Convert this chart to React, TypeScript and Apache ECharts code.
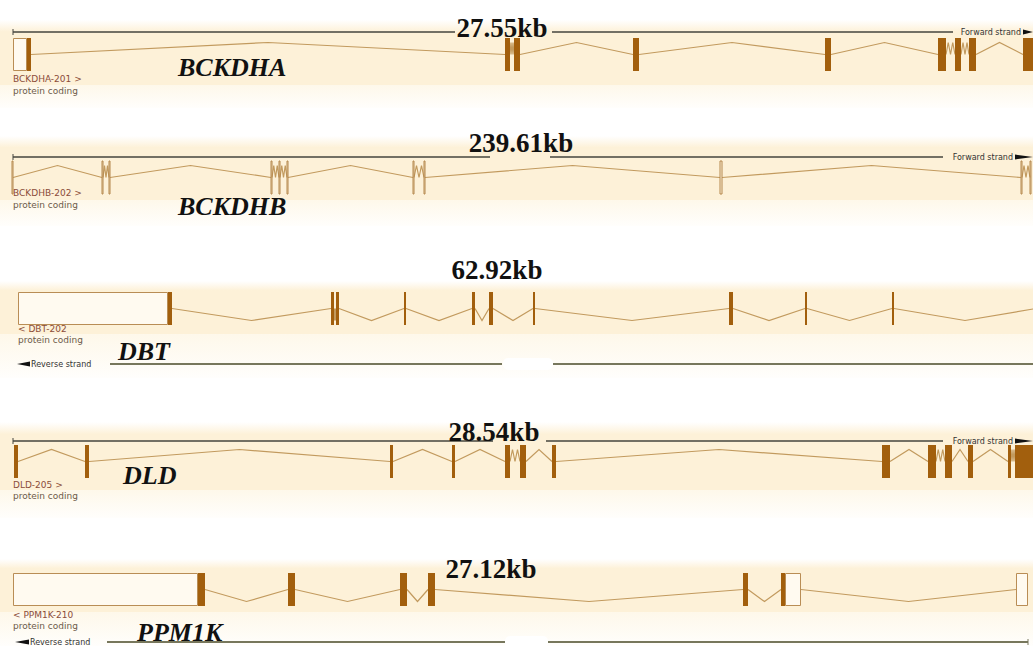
import { useEffect, useRef } from "react";
import * as echarts from "echarts";

// ---------------- data ----------------
const GENE_NAMES = ["BCKDHA", "BCKDHB", "DBT", "DLD", "PPM1K"];
const TRANSCRIPT_IDS = ["BCKDHA-201 >", "BCKDHB-202 >", "< DBT-202", "DLD-205 >", "< PPM1K-210"];
const BIOTYPES = ["protein coding", "protein coding", "protein coding", "protein coding", "protein coding"];
const SPAN_LABELS = ["27.55kb", "239.61kb", "62.92kb", "28.54kb", "27.12kb"];
const STRAND_LABELS = ["Forward strand", "Forward strand", "Reverse strand", "Forward strand", "Reverse strand"];
const STRAND_DIR = [1, 1, -1, 1, -1];

// exon [start, end, kind]  kind: "c" coding, "u" untranslated, "n" thin outline
type Exon = [number, number, string];
const BCKDHA_EXONS: Exon[] = [
  [13, 27, "u"], [27, 31, "c"], [505, 510, "c"], [514, 520, "c"], [633, 639, "c"],
  [825, 831, "c"], [938, 946, "c"], [955, 961, "c"], [969, 976, "c"], [1023, 1040, "c"],
];
const BCKDHB_EXONS: Exon[] = [
  [12, 13, "n"], [102, 103, "n"], [109, 110, "n"], [271, 272, "n"], [279, 280, "n"],
  [287, 288, "n"], [413, 414, "n"], [424, 425, "n"], [720, 722, "n"], [1021, 1022, "n"], [1030, 1031, "n"],
];
const DBT_EXONS: Exon[] = [
  [18, 168, "u"], [168, 172, "c"], [331, 334, "c"], [336, 339, "c"], [404, 406, "c"],
  [472, 475, "c"], [489, 493, "c"], [533, 535, "c"], [729, 733, "c"], [805, 807, "c"],
  [892, 894, "c"], [1036, 1040, "c"],
];
const DLD_EXONS: Exon[] = [
  [14, 18, "c"], [85, 89, "c"], [390, 393, "c"], [452, 455, "c"], [505, 510, "c"],
  [520, 526, "c"], [552, 556, "c"], [882, 890, "c"], [928, 936, "c"], [945, 952, "c"],
  [968, 973, "c"], [1008, 1011, "c"], [1015, 1040, "c"],
];
const PPM1K_EXONS: Exon[] = [
  [13, 198, "u"], [198, 205, "c"], [288, 295, "c"], [400, 407, "c"], [428, 435, "c"],
  [743, 748, "c"], [781, 785, "c"], [785, 801, "u"], [1016, 1028, "u"],
];
const TRACK_EXONS = [BCKDHA_EXONS, BCKDHB_EXONS, DBT_EXONS, DLD_EXONS, PPM1K_EXONS];

// ---------------- layout ----------------
const VIEW_W = 1033;
const VIEW_H = 646;
const TRACK_MID_Y = [54.5, 177.5, 308.5, 461.5, 589.5];
const EXON_HALF_H = 16.5;
const INTRON_RISE = 12;
const SHORT_INTRON = 12;
const BAND_TOP = [20, 136, 281, 422, 559];
const BAND_SPLIT = [85, 200, 334, 490, 612];
const BAND_BOTTOM = [108, 226, 378, 518, 646];
const SCALE_Y = [32, 157, 364, 441, 642];
const SCALE_SEGMENTS = [
  [[13, 455], [552, 953]],
  [[13, 490], [550, 943]],
  [[110, 502], [553, 1033]],
  [[13, 493], [546, 943]],
  [[107, 505], [548, 1028]],
];
const SCALE_TICKS = [[13], [13], [], [13], [1028]];
const STRAND_TEXT_X = [1021, 1013, 31, 1013, 30];
const STRAND_ARROW = [[1023, 1033], [1015, 1033], [17, 30], [1015, 1033], [15, 29]];
const GAP_PATCH = [null, null, [503, 553], null, [505, 548]];
const SPAN_LABEL_X = [502, 521, 497, 494, 491];
const SPAN_LABEL_Y = [28, 143, 270, 432, 569];
const GENE_LABEL_X = [178, 178, 118, 123, 137];
const GENE_LABEL_Y = [67, 206, 351, 475, 632];
const TX_LABEL_X = [13, 13, 18, 13, 13];
const TX_LABEL_Y = [79, 193, 329, 485, 615];
const BIOTYPE_Y = [91, 205, 340, 496, 626];

// ---------------- styles ----------------
const C_CODING = "#a25f0d";
const C_UTR_STROKE = "#b98d55";
const C_UTR_FILL = "#fffaf0";
const C_INTRON = "#c29a5e";
const C_THIN = "#b4864a";
const C_SCALE = "#44443e";
const C_SCALE_REV = "#77775c";
const C_BAND = "#fdf1d8";
const C_BAND_LOW = "#fef8ea";
const SERIF = '"Liberation Serif", "Times New Roman", serif';
const SANS = '"DejaVu Sans", Verdana, sans-serif';

const trackData = GENE_NAMES.map((_, i) => [i, i]);

function renderBands(_p: any, api: any) {
  const i = api.value(0);
  const [x0, y0] = api.coord([0, BAND_TOP[i]]);
  const [x1, ys] = api.coord([VIEW_W, BAND_SPLIT[i]]);
  const [, y1] = api.coord([VIEW_W, BAND_BOTTOM[i]]);
  return {
    type: "group",
    children: [
      {
        type: "rect",
        shape: { x: x0, y: y0, width: x1 - x0, height: ys - y0 },
        style: {
          fill: new echarts.graphic.LinearGradient(0, 0, 0, 1, [
            { offset: 0, color: "rgba(253,241,217,0)" },
            { offset: 0.18, color: C_BAND },
            { offset: 1, color: C_BAND },
          ]),
        },
      },
      {
        type: "rect",
        shape: { x: x0, y: ys, width: x1 - x0, height: y1 - ys },
        style: {
          fill: new echarts.graphic.LinearGradient(0, 0, 0, 1, [
            { offset: 0, color: C_BAND_LOW },
            { offset: 1, color: "rgba(254,248,234,0.15)" },
          ]),
        },
      },
    ],
  };
}

function renderGene(_p: any, api: any) {
  const i = api.value(0);
  const exons = TRACK_EXONS[i];
  const cy = TRACK_MID_Y[i];
  const dir = STRAND_DIR[i];
  const peakY = cy - dir * INTRON_RISE;
  const children: any[] = [];
  for (let k = 0; k < exons.length - 1; k++) {
    const a = exons[k][1];
    const b = exons[k + 1][0];
    const g = b - a;
    if (g <= 0) continue;
    const pts =
      g < SHORT_INTRON
        ? [[a, cy], [a + g / 4, peakY], [a + g / 2, cy], [a + (3 * g) / 4, peakY], [b, cy]]
        : [[a, cy], [(a + b) / 2, peakY], [b, cy]];
    children.push({
      type: "polyline",
      shape: { points: pts.map((p) => api.coord(p)) },
      style: { stroke: C_INTRON, lineWidth: 1.2, fill: "none" },
    });
  }
  for (const [s, e, kind] of exons) {
    if (s >= VIEW_W) continue;
    const [x1, y1] = api.coord([s, cy - EXON_HALF_H]);
    const [x2, y2] = api.coord([Math.min(e, VIEW_W), cy + EXON_HALF_H]);
    if (kind === "c") {
      children.push({
        type: "rect",
        shape: { x: x1, y: y1, width: Math.max(2, x2 - x1), height: y2 - y1 },
        style: { fill: C_CODING },
      });
    } else if (kind === "u") {
      children.push({
        type: "rect",
        shape: { x: x1 + 0.5, y: y1 + 0.5, width: x2 - x1 - 1, height: y2 - y1 - 1 },
        style: { fill: C_UTR_FILL, stroke: C_UTR_STROKE, lineWidth: 1 },
      });
    } else {
      children.push({
        type: "rect",
        shape: { x: x1, y: y1, width: Math.max(1, x2 - x1), height: y2 - y1 },
        style: { fill: "none", stroke: C_THIN, lineWidth: 1 },
      });
    }
  }
  return { type: "group", children };
}

function renderScale(_p: any, api: any) {
  const i = api.value(0);
  const y = SCALE_Y[i];
  const rev = STRAND_DIR[i] < 0;
  const col = rev ? C_SCALE_REV : C_SCALE;
  const children: any[] = [];
  for (const [a, b] of SCALE_SEGMENTS[i]) {
    const p = api.coord([a, y]);
    const q = api.coord([b, y]);
    children.push({
      type: "line",
      shape: { x1: p[0], y1: p[1], x2: q[0], y2: q[1] },
      style: { stroke: col, lineWidth: rev ? 2 : 1.4 },
    });
  }
  for (const t of SCALE_TICKS[i]) {
    const p = api.coord([t, y - 3]);
    const q = api.coord([t, y + 3]);
    children.push({
      type: "line",
      shape: { x1: p[0], y1: p[1], x2: q[0], y2: q[1] },
      style: { stroke: col, lineWidth: 1 },
    });
  }
  const patch = GAP_PATCH[i];
  if (patch) {
    const p = api.coord([patch[0], y - 6]);
    const q = api.coord([patch[1], y + 6]);
    children.push({
      type: "rect",
      shape: { x: p[0], y: p[1], width: q[0] - p[0], height: q[1] - p[1], r: 5 },
      style: { fill: "rgba(255,255,255,0.92)" },
    });
  }
  const [a0, a1] = STRAND_ARROW[i];
  const tip = rev ? a0 : a1;
  const base = rev ? a1 : a0;
  children.push({
    type: "polygon",
    shape: { points: [api.coord([base, y - 2.5]), api.coord([tip, y]), api.coord([base, y + 2.5])] },
    style: { fill: "#111" },
  });
  const sp = api.coord([STRAND_TEXT_X[i], y]);
  children.push({
    type: "text",
    x: sp[0],
    y: sp[1],
    style: {
      text: STRAND_LABELS[i],
      fill: "#333",
      fontSize: 8,
      fontFamily: SANS,
      align: rev ? "left" : "right",
      verticalAlign: "middle",
    },
  });
  const kp = api.coord([SPAN_LABEL_X[i], SPAN_LABEL_Y[i]]);
  children.push({
    type: "text",
    x: kp[0],
    y: kp[1],
    style: {
      text: SPAN_LABELS[i],
      fill: "#111",
      fontSize: 27,
      fontWeight: "bold",
      fontFamily: SERIF,
      align: "center",
      verticalAlign: "middle",
    },
  });
  return { type: "group", children };
}

function renderLabels(_p: any, api: any) {
  const i = api.value(0);
  const g = api.coord([GENE_LABEL_X[i], GENE_LABEL_Y[i]]);
  const t = api.coord([TX_LABEL_X[i], TX_LABEL_Y[i]]);
  const b = api.coord([TX_LABEL_X[i], BIOTYPE_Y[i]]);
  return {
    type: "group",
    children: [
      {
        type: "text",
        x: g[0],
        y: g[1],
        style: {
          text: GENE_NAMES[i],
          fill: "#111",
          fontSize: 26,
          fontWeight: "bold",
          fontStyle: "italic",
          fontFamily: SERIF,
          align: "left",
          verticalAlign: "middle",
        },
      },
      {
        type: "text",
        x: t[0],
        y: t[1],
        style: { text: TRANSCRIPT_IDS[i], fill: "#8b4c39", fontSize: 9, fontFamily: SANS, align: "left", verticalAlign: "middle" },
      },
      {
        type: "text",
        x: b[0],
        y: b[1],
        style: { text: BIOTYPES[i], fill: "#6d5a4a", fontSize: 9, fontFamily: SANS, align: "left", verticalAlign: "middle" },
      },
    ],
  };
}

export default function App() {
  const ref = useRef<HTMLDivElement>(null);
  useEffect(() => {
    const chart = echarts.init(ref.current!, null, { renderer: "svg" });
    const common = { type: "custom", data: trackData, encode: { x: 0, y: 1 }, silent: true, clip: false };
    chart.setOption({
      animation: false,
      backgroundColor: "#ffffff",
      grid: { left: 0, right: 0, top: 0, bottom: 0 },
      xAxis: { type: "value", min: 0, max: VIEW_W, show: false },
      yAxis: { type: "value", min: 0, max: VIEW_H, inverse: true, show: false },
      series: [
        { ...common, name: "bands", z: 1, renderItem: renderBands },
        { ...common, name: "scale", z: 2, renderItem: renderScale },
        { ...common, name: "genes", z: 3, renderItem: renderGene },
        { ...common, name: "labels", z: 4, renderItem: renderLabels },
      ],
    } as any);
    return () => chart.dispose();
  }, []);
  return (
    <div
      ref={ref}
      style={{ position: "fixed", left: 0, top: 0, width: VIEW_W, height: VIEW_H, background: "#fff" }}
    />
  );
}
